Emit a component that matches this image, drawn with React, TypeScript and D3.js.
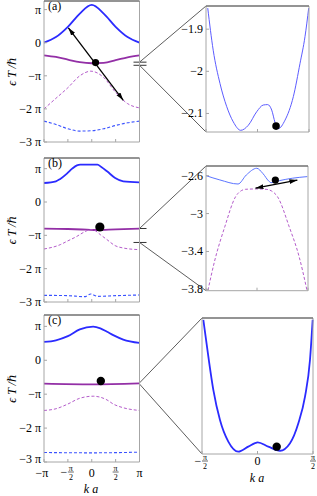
import React from 'react';
import * as d3 from 'd3';

type Pt = [number, number];

// left column: k in units of π/a, energy ϵT/ħ in units of π
const kTicks = [-1, -0.5, 0, 0.5, 1];
const eTicks = [1, 0, -1, -2, -3];
const eTickLabels = ['π', '0', '−π', '−2 π', '−3 π'];

// panel (a)
const aBlue: Pt[] = [[-1, 0], [-0.75, 0.17], [-0.5, 0.48], [-0.25, 0.88], [0, 1.14], [0.25, 0.88], [0.5, 0.48], [0.75, 0.17], [1, 0]];
const aPurple: Pt[] = [[-1, -0.38], [-0.75, -0.43], [-0.5, -0.51], [-0.25, -0.59], [0, -0.62], [0.25, -0.61], [0.5, -0.53], [0.75, -0.44], [1, -0.38]];
const aPurpleDash: Pt[] = [[-1, -2.0], [-0.75, -1.68], [-0.5, -1.36], [-0.25, -1.0], [-0.02, -0.86], [0.25, -1.05], [0.5, -1.5], [0.75, -1.84], [1, -1.97]];
const aBlueDash: Pt[] = [[-1, -2.37], [-0.75, -2.47], [-0.5, -2.6], [-0.25, -2.67], [0, -2.66], [0.25, -2.6], [0.5, -2.5], [0.75, -2.42], [1, -2.37]];
const aBall: Pt = [0.08, -0.6];
const aArrow: Pt[] = [[-0.49, 0.45], [0.66, -1.74]];

// panel (b)
const bBlue: Pt[] = [[-1, 0.57], [-0.75, 0.62], [-0.66, 0.69], [-0.52, 0.85], [-0.41, 1.0], [-0.31, 1.1], [-0.24, 1.12], [0.12, 1.12], [0.2, 1.05], [0.32, 0.92], [0.49, 0.72], [0.66, 0.62], [1, 0.59]];
const bPurple: Pt[] = [[-1, -0.8], [-0.5, -0.81], [-0.1, -0.83], [0.1, -0.84], [0.5, -0.82], [1, -0.8]];
const bPurpleDash: Pt[] = [[-1, -1.41], [-0.66, -1.28], [-0.52, -1.18], [-0.31, -1.03], [-0.17, -0.91], [-0.03, -0.83], [0.04, -0.84], [0.18, -0.98], [0.32, -1.13], [0.49, -1.31], [0.66, -1.38], [1, -1.43]];
const bBlueDash: Pt[] = [[-1, -2.8], [-0.5, -2.81], [-0.15, -2.84], [-0.02, -2.76], [0.12, -2.83], [0.5, -2.81], [1, -2.79]];
const bBall: Pt = [0.17, -0.75];

// panel (c)
const cBlue: Pt[] = [[-1, 0.54], [-0.75, 0.59], [-0.5, 0.71], [-0.25, 0.91], [0.03, 0.99], [0.18, 0.94], [0.32, 0.84], [0.45, 0.74], [0.66, 0.61], [1, 0.51]];
const cPurple: Pt[] = [[-1, -0.69], [0, -0.71], [1, -0.68]];
const cPurpleDash: Pt[] = [[-1, -1.48], [-0.75, -1.43], [-0.5, -1.29], [-0.25, -1.12], [0.03, -1.06], [0.32, -1.17], [0.45, -1.29], [0.66, -1.4], [1, -1.48]];
const cBlueDash: Pt[] = [[-1, -2.72], [0, -2.73], [1, -2.71]];
const cBall: Pt = [0.19, -0.61];

// right column zooms: k in units of π/a, energy ϵT/ħ
const zkTicks = [-0.5, 0, 0.5];
const zaTicks = [-1.9, -2, -2.1];
const zaCurve: Pt[] = [[-0.483, -1.85], [-0.43, -1.95], [-0.364, -2.029], [-0.3, -2.083], [-0.235, -2.12], [-0.163, -2.14], [-0.089, -2.128], [-0.008, -2.096], [0.056, -2.08], [0.099, -2.079], [0.138, -2.092], [0.17, -2.121], [0.202, -2.136], [0.267, -2.116], [0.348, -2.06], [0.413, -1.981], [0.461, -1.918], [0.497, -1.85]];
const zaBall: Pt = [0.18, -2.13];

const zbTicks = [-2.6, -3, -3.4, -3.8];
const zbBlue: Pt[] = [[-0.5, -2.6], [-0.364, -2.645], [-0.186, -2.688], [-0.105, -2.593], [-0.002, -2.522], [0.056, -2.575], [0.121, -2.663], [0.138, -2.674], [0.218, -2.653], [0.347, -2.627], [0.493, -2.61]];
const zbPurpleDash: Pt[] = [[-0.481, -3.81], [-0.413, -3.49], [-0.316, -3.14], [-0.209, -2.82], [-0.15, -2.756], [-0.112, -2.744], [0, -2.74], [0.089, -2.744], [0.14, -2.76], [0.2, -2.82], [0.316, -3.14], [0.413, -3.455], [0.49, -3.81]];
const zbBall: Pt = [0.18, -2.647];
const zbArrow: Pt[] = [[-0.015, -2.732], [0.396, -2.647]];

const zcCurve: Pt[] = [[-0.488, -2.1013], [-0.443, -2.1283], [-0.398, -2.1528], [-0.338, -2.175], [-0.263, -2.1909], [-0.173, -2.1983], [-0.083, -2.1946], [0.002, -2.1914], [0.097, -2.1946], [0.203, -2.1976], [0.293, -2.1921], [0.368, -2.1774], [0.428, -2.1578], [0.473, -2.1307], [0.497, -2.1013]];
const zcBall: Pt = [0.173, -2.1946];

const SERIF = '"Liberation Serif", "DejaVu Serif", serif';
const BLUE = '#2b2bff';
const PURPLE = '#932fa6';
const PURPLE_D = '#b45ccb';
const BLUE_D = '#3a52ff';

function pathOf(pts: Pt[], x: d3.ScaleLinear<number, number>, y: d3.ScaleLinear<number, number>) {
  return d3.line<Pt>().x(d => x(d[0])).y(d => y(d[1])).curve(d3.curveMonotoneX)(pts) || '';
}

function Frame({ x0, x1, y0, y1 }: { x0: number; x1: number; y0: number; y1: number }) {
  return (
    <g fill="none">
      <path d={`M${x0},${y0}V${y1}H${x1}V${y0}`} stroke="#a6a6a6" strokeWidth={1} />
      <line x1={x0} x2={x1} y1={y0} y2={y0} stroke="#707070" strokeWidth={1.6} />
    </g>
  );
}

function Frac({ x, y, neg }: { x: number; y: number; neg?: boolean }) {
  return (
    <g fontFamily={SERIF} textAnchor="middle">
      {neg && <text x={x - 7} y={y + 4} fontSize={12}>−</text>}
      <text x={x} y={y - 1.5} fontSize={8}>π</text>
      <line x1={x - 3} x2={x + 3} y1={y} y2={y} stroke="#000" strokeWidth={0.6} />
      <text x={x} y={y + 7.5} fontSize={8}>2</text>
    </g>
  );
}

const leftPanels = [
  { label: '(a)', top: 1, bottom: 142, yMax: 1.26, lines: [aBlue, aPurple, aPurpleDash, aBlueDash], ball: aBall, r: 3.6, arrow: aArrow },
  { label: '(b)', top: 158, bottom: 302, yMax: 1.32, lines: [bBlue, bPurple, bPurpleDash, bBlueDash], ball: bBall, r: 4.6, arrow: null },
  { label: '(c)', top: 315, bottom: 462, yMax: 1.335, lines: [cBlue, cPurple, cPurpleDash, cBlueDash], ball: cBall, r: 4.2, arrow: null },
];

const rightPanels = [
  { x0: 206, x1: 309, top: 6, bottom: 132, dom: [-2.144, -1.845], ticks: zaTicks },
  { x0: 206, x1: 308, top: 166, bottom: 290.7, dom: [-3.814, -2.498], ticks: zbTicks },
  { x0: 202, x1: 313, top: 318, bottom: 454, dom: [-2.2, -2.1], ticks: [] as number[] },
];

const fmt = (v: number) => String(v).replace('-', '−');

export default function App() {
  const xL = d3.scaleLinear().domain([-1, 1]).range([44, 139.5]);
  const ys = leftPanels.map(p => d3.scaleLinear().domain([-3, p.yMax]).range([p.bottom, p.top]));
  const xs = rightPanels.map(p => d3.scaleLinear().domain([-0.5, 0.5]).range([p.x0, p.x1]));
  const yr = rightPanels.map(p => d3.scaleLinear().domain(p.dom).range([p.bottom, p.top]));
  const styles = [
    { stroke: BLUE, w: 1.8, dash: undefined },
    { stroke: PURPLE, w: 1.8, dash: undefined },
    { stroke: PURPLE_D, w: 1, dash: '3,2' },
    { stroke: BLUE_D, w: 1.1, dash: '3,2' },
  ];

  return (
    <svg width={317} height={496} style={{ position: 'absolute', left: 0, top: 0, background: '#fff' }}>
      <defs>
        <marker id="ah" viewBox="0 0 10 6" refX={10} refY={3} markerWidth={8} markerHeight={5} markerUnits="userSpaceOnUse" orient="auto-start-reverse">
          <path d="M0,0L10,3L0,6z" fill="#000" />
        </marker>
      </defs>

      {/* zoom connector lines */}
      {rightPanels.map((p, i) => {
        const yl = ys[i];
        const ya = yl(p.dom[1] / Math.PI);
        const yb = yl(p.dom[0] / Math.PI);
        const xr = xL(1);
        return (
          <g key={'z' + i} stroke="#333" strokeWidth={0.8}>
            {i < 2 && <line x1={xr - 6} x2={xr + 7} y1={ya} y2={ya} strokeWidth={1} />}
            {i < 2 && <line x1={xr - 6} x2={xr + 7} y1={yb} y2={yb} strokeWidth={1} />}
            <line x1={xr} y1={ya} x2={p.x0} y2={p.top} />
            <line x1={xr} y1={yb} x2={p.x0} y2={p.bottom} />
          </g>
        );
      })}

      {leftPanels.map((p, i) => {
        const y = ys[i];
        return (
          <g key={p.label}>
            {p.lines.map((pts, j) => (
              <path key={j} d={pathOf(pts, xL, y)} fill="none" stroke={styles[j].stroke} strokeWidth={styles[j].w} strokeDasharray={styles[j].dash} />
            ))}
            <Frame x0={44} x1={139.5} y0={p.top} y1={p.bottom} />
            {kTicks.map(k => (
              <line key={k} x1={xL(k)} x2={xL(k)} y1={p.bottom} y2={p.bottom - 3} stroke="#a6a6a6" />
            ))}
            {eTicks.map((e, j) => (
              <g key={e}>
                <line x1={44} x2={47} y1={y(e)} y2={y(e)} stroke="#a6a6a6" />
                <text x={41} y={y(e) + (i === 2 && e === -3 ? 1 : 4)} fontSize={12} fontFamily={SERIF} textAnchor="end">{eTickLabels[j]}</text>
              </g>
            ))}
            <text x={48} y={p.top + 9} fontSize={12} fontFamily={SERIF}>{p.label}</text>
            <text transform={`translate(16,${(p.top + p.bottom) / 2}) rotate(-90)`} fontSize={12} fontFamily={SERIF} fontStyle="italic" textAnchor="middle">ϵ T /ℏ</text>
            {p.arrow && (
              <line x1={xL(p.arrow[0][0])} y1={y(p.arrow[0][1])} x2={xL(p.arrow[1][0])} y2={y(p.arrow[1][1])} stroke="#000" strokeWidth={1.3} markerStart="url(#ah)" markerEnd="url(#ah)" />
            )}
            <circle cx={xL(p.ball[0])} cy={y(p.ball[1])} r={p.r} fill="#000" />
          </g>
        );
      })}

      {/* left x tick labels */}
      <g fontFamily={SERIF} fontSize={12} textAnchor="middle">
        <text x={xL(-1) - 2} y={477}>−π</text>
        <text x={xL(0)} y={477}>0</text>
        <text x={xL(1)} y={477}>π</text>
        <text x={91} y={493} fontStyle="italic">k  a</text>
      </g>
      <Frac x={xL(-0.5) + 3} y={472} neg />
      <Frac x={xL(0.5)} y={472} />

      {/* right column */}
      {rightPanels.map((p, i) => {
        const x = xs[i];
        const y = yr[i];
        return (
          <g key={'r' + i}>
            {i === 0 && <path d={pathOf(zaCurve, x, y)} fill="none" stroke="#5c5cff" strokeWidth={1} />}
            {i === 1 && (
              <>
                <path d={pathOf(zbPurpleDash, x, y)} fill="none" stroke={PURPLE_D} strokeWidth={1} strokeDasharray="3,2" />
                <path d={pathOf(zbBlue, x, y)} fill="none" stroke="#5b74ff" strokeWidth={1} />
              </>
            )}
            {i === 2 && <path d={pathOf(zcCurve, x, y)} fill="none" stroke={BLUE} strokeWidth={1.8} />}
            <Frame x0={p.x0} x1={p.x1} y0={p.top} y1={p.bottom} />
            {zkTicks.map(k => (
              <line key={k} x1={x(k)} x2={x(k)} y1={p.bottom} y2={p.bottom - 3} stroke="#a6a6a6" />
            ))}
            {p.ticks.map(t => (
              <g key={t}>
                <line x1={p.x0} x2={p.x0 + 3} y1={y(t)} y2={y(t)} stroke="#a6a6a6" />
                <text x={p.x0 - 3} y={y(t) + 4} fontSize={12} fontFamily={SERIF} textAnchor="end">{fmt(t)}</text>
              </g>
            ))}
          </g>
        );
      })}
      <circle cx={xs[0](zaBall[0])} cy={yr[0](zaBall[1])} r={3.8} fill="#000" />
      <line x1={xs[1](zbArrow[0][0])} y1={yr[1](zbArrow[0][1])} x2={xs[1](zbArrow[1][0])} y2={yr[1](zbArrow[1][1])} stroke="#000" strokeWidth={1.2} markerStart="url(#ah)" markerEnd="url(#ah)" />
      <circle cx={xs[1](zbBall[0])} cy={yr[1](zbBall[1])} r={3.6} fill="#000" />
      <circle cx={xs[2](zcBall[0])} cy={yr[2](zcBall[1])} r={4.2} fill="#000" />

      <text x={xs[2](0)} y={465} fontSize={12} fontFamily={SERIF} textAnchor="middle">0</text>
      <Frac x={xs[2](-0.5) + 3} y={461} neg />
      <Frac x={xs[2](0.5)} y={461} />
      <text x={257} y={482} fontSize={12} fontFamily={SERIF} fontStyle="italic" textAnchor="middle">k a</text>
    </svg>
  );
}
